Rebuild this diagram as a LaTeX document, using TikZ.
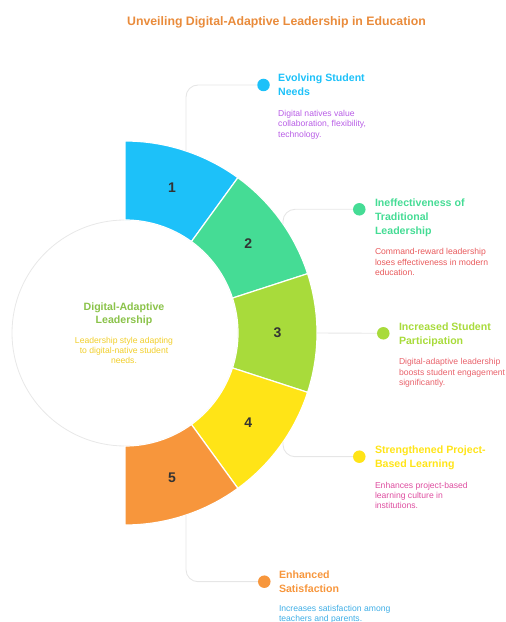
\documentclass[tikz,border=0pt]{standalone}
\usepackage{fontspec}
\setmainfont{Liberation Sans}
\usetikzlibrary{positioning}
\definecolor{c1}{HTML}{1DC1F9}
\definecolor{c2}{HTML}{45DC95}
\definecolor{c3}{HTML}{A8DB3B}
\definecolor{c4}{HTML}{FFE417}
\definecolor{c5}{HTML}{F7963C}
\definecolor{e1}{HTML}{B85DE6}
\definecolor{e2}{HTML}{E85A5C}
\definecolor{e3}{HTML}{E8626B}
\definecolor{e4}{HTML}{DE4EA0}
\definecolor{e5}{HTML}{3FAEE6}
\definecolor{vert}{HTML}{8BC34A}
\definecolor{jaune}{HTML}{F2CF2A}
\definecolor{orange}{HTML}{E98B3B}
\definecolor{chiffre}{HTML}{333333}
\definecolor{trait}{HTML}{E6E6E6}
\definecolor{bord}{HTML}{E8E8E8}
\begin{document}
\begin{tikzpicture}[x=1pt,y=1pt]
	\tikzstyle{secteur}=[draw=white,line width=1.2pt]
	\tikzstyle{numero}=[font=\bfseries\fontsize{14}{16}\selectfont,text=chiffre]
	\tikzstyle{lien}=[draw=trait,line width=0.9pt,rounded corners=12pt]
	\tikzstyle{point}=[circle,minimum size=12.5pt,inner sep=0pt]
	\tikzstyle{titre}=[anchor=north west,align=left,inner sep=0pt,font=\bfseries\fontsize{10.6}{14}\selectfont]
	\tikzstyle{texte}=[anchor=north west,align=left,inner sep=0pt,font=\fontsize{8.6}{10.4}\selectfont]
	\def\Rext{192}\def\Rint{113}\def\Rnum{152.5}
	\useasboundingbox (0,0) rectangle (506,622);
	\node[anchor=base,inner sep=0pt,text=orange,font=\bfseries\fontsize{12.3}{14}\selectfont] (entete) at (276.5,596) {Unveiling Digital-Adaptive Leadership in Education};
	\node[circle,draw=bord,fill=white,line width=0.8pt,minimum size=226pt,inner sep=0pt] (C) at (125,289) {};
	\filldraw[secteur,fill=c1] ([shift={(90:\Rext)}]C.center) arc (90:54:\Rext) -- ([shift={(54:\Rint)}]C.center) arc (54:90:\Rint) -- cycle;
	\filldraw[secteur,fill=c2] ([shift={(54:\Rext)}]C.center) arc (54:18:\Rext) -- ([shift={(18:\Rint)}]C.center) arc (18:54:\Rint) -- cycle;
	\filldraw[secteur,fill=c3] ([shift={(18:\Rext)}]C.center) arc (18:-18:\Rext) -- ([shift={(-18:\Rint)}]C.center) arc (-18:18:\Rint) -- cycle;
	\filldraw[secteur,fill=c4] ([shift={(-18:\Rext)}]C.center) arc (-18:-54:\Rext) -- ([shift={(-54:\Rint)}]C.center) arc (-54:-18:\Rint) -- cycle;
	\filldraw[secteur,fill=c5] ([shift={(-54:\Rext)}]C.center) arc (-54:-90:\Rext) -- ([shift={(-90:\Rint)}]C.center) arc (-90:-54:\Rint) -- cycle;
	\node[numero] (n1) at ([shift={(72:\Rnum)}]C.center) {1};
	\node[numero] (n2) at ([shift={(36:\Rnum)}]C.center) {2};
	\node[numero] (n3) at ([shift={(0:\Rnum)}]C.center) {3};
	\node[numero] (n4) at ([shift={(-36:\Rnum)}]C.center) {4};
	\node[numero] (n5) at ([shift={(-72:\Rnum)}]C.center) {5};
	\node[anchor=north,align=center,inner sep=0pt,text=vert,font=\bfseries\fontsize{10.6}{13.5}\selectfont] (ct) at ([xshift=-1pt,yshift=30.5pt]C.center) {Digital-Adaptive\\Leadership};
	\node[anchor=north,align=center,inner sep=0pt,text=jaune,font=\fontsize{8.6}{10.4}\selectfont] (cx) at ([xshift=-1pt,yshift=-3.7pt]C.center) {Leadership style adapting\\to digital-native student\\needs.};
	\coordinate (s1) at (186,471);
	\coordinate (s2) at (283,398);
	\coordinate (s3) at (317,289);
	\coordinate (s4) at (283,180);
	\coordinate (s5) at (186,107);
	\node[point,fill=c1] (d1) at (263.5,537) {};
	\node[point,fill=c2] (d2) at (359.3,412.7) {};
	\node[point,fill=c3] (d3) at (383.3,288.7) {};
	\node[point,fill=c4] (d4) at (359.3,165.3) {};
	\node[point,fill=c5] (d5) at (264.3,40.3) {};
	\draw[lien] (s1) |- (d1);
	\draw[lien] (s2) |- (d2);
	\draw[lien] (s3) -- (d3);
	\draw[lien] (s4) |- (d4);
	\draw[lien] (s5) |- (d5);
	\node[titre,text=c1] (t1) at ([xshift=14.5pt,yshift=11pt]d1.center) {Evolving Student\\Needs};
	\node[texte,text=e1] (x1) at ([xshift=14.5pt,yshift=-25pt]d1.center) {Digital natives value\\collaboration, flexibility,\\technology.};
	\node[titre,text=c2] (t2) at ([xshift=15.5pt,yshift=11pt]d2.center) {Ineffectiveness of\\Traditional\\Leadership};
	\node[texte,text=e2] (x2) at ([xshift=15.5pt,yshift=-39pt]d2.center) {Command-reward leadership\\loses effectiveness in modern\\education.};
	\node[titre,text=c3] (t3) at ([xshift=15.5pt,yshift=11pt]d3.center) {Increased Student\\Participation};
	\node[texte,text=e3] (x3) at ([xshift=15.5pt,yshift=-25pt]d3.center) {Digital-adaptive leadership\\boosts student engagement\\significantly.};
	\node[titre,text=c4] (t4) at ([xshift=15.5pt,yshift=11pt]d4.center) {Strengthened Project-\\Based Learning};
	\node[texte,text=e4] (x4) at ([xshift=15.5pt,yshift=-25pt]d4.center) {Enhances project-based\\learning culture in\\institutions.};
	\node[titre,text=c5] (t5) at ([xshift=14.5pt,yshift=11pt]d5.center) {Enhanced\\Satisfaction};
	\node[texte,text=e5] (x5) at ([xshift=14.5pt,yshift=-23pt]d5.center) {Increases satisfaction among\\teachers and parents.};
\end{tikzpicture}
\end{document}
